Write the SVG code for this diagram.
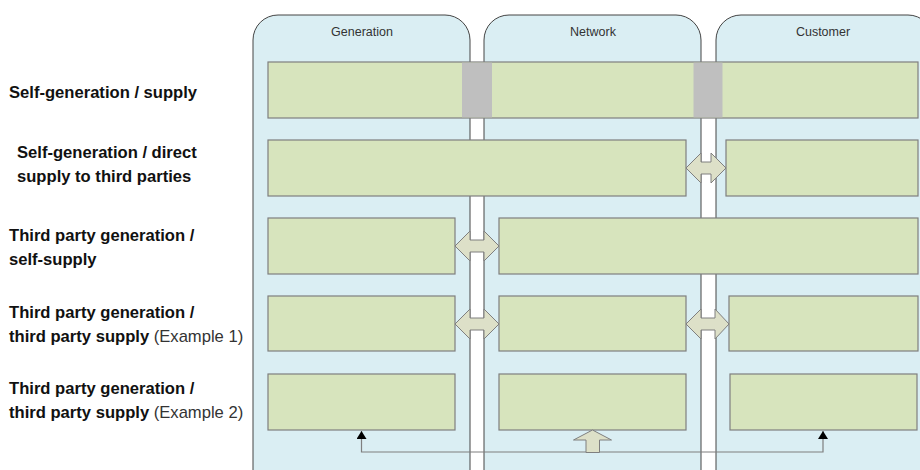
<svg xmlns="http://www.w3.org/2000/svg" width="920" height="470" viewBox="0 0 920 470">
<style>
.panel{fill:#DAEEF3;stroke:#444;stroke-width:1}
.box{fill:#D7E4BD;stroke:#7F7F7F;stroke-width:1.2}
.gray{fill:#BFBFBF}
.arr{fill:#DDE0C8;stroke:#7F7F7F;stroke-width:1}
.hdr{font-family:"Liberation Sans",Arial,sans-serif;font-size:12.5px;fill:#333;text-anchor:middle}
.lbl{font-family:"Liberation Sans",Arial,sans-serif;font-size:16.6px;font-weight:bold;fill:#111}
.reg{font-weight:normal;fill:#333}
.line{fill:none;stroke:#7F7F7F;stroke-width:1.2}
</style>
<defs>
<marker id="tri" markerWidth="8" markerHeight="10" refX="8" refY="5" orient="auto-start-reverse" markerUnits="userSpaceOnUse">
<path d="M0,0 L8,5 L0,10 Z" fill="#000"/>
</marker>
</defs>
<rect width="920" height="470" fill="#fff"/>
<g id="panel-generation"><rect class="panel" x="253" y="15" width="217" height="490" rx="25"/><text class="hdr" x="362" y="36">Generation</text></g>
<g id="panel-network"><rect class="panel" x="484" y="15" width="217" height="490" rx="25"/><text class="hdr" x="593" y="36">Network</text></g>
<g id="panel-customer"><rect class="panel" x="716" y="15" width="217" height="490" rx="25"/><text class="hdr" x="823" y="36">Customer</text></g>

<g id="labels">
<text class="lbl" x="9" y="98">Self-generation / supply</text>
<text class="lbl" x="17" y="158">Self-generation / direct</text>
<text class="lbl" x="17" y="182">supply to third parties</text>
<text class="lbl" x="9" y="241">Third party generation /</text>
<text class="lbl" x="9" y="265">self-supply</text>
<text class="lbl" x="9" y="318">Third party generation /</text>
<text class="lbl" x="9" y="342">third party supply <tspan class="reg">(Example 1)</tspan></text>
<text class="lbl" x="9" y="394">Third party generation /</text>
<text class="lbl" x="9" y="418">third party supply <tspan class="reg">(Example 2)</tspan></text>
</g>

<g id="row1">
<rect class="box" x="268" y="62" width="650" height="56"/>
<rect class="gray" x="462" y="62.6" width="30" height="54.8"/>
<rect class="gray" x="693.5" y="62.6" width="29" height="54.8"/>
</g>
<g id="row2">
<rect class="box" x="268" y="140" width="418" height="56"/>
<rect class="box" x="726" y="140" width="192" height="56"/>
</g>
<g id="row3">
<rect class="box" x="268" y="218" width="187" height="56"/>
<rect class="box" x="499" y="218" width="419" height="56"/>
</g>
<g id="row4">
<rect class="box" x="268" y="296" width="187" height="55"/>
<rect class="box" x="499" y="296" width="187" height="55"/>
<rect class="box" x="729" y="296" width="189" height="55"/>
</g>
<g id="row5">
<rect class="box" x="268" y="374" width="187" height="56"/>
<rect class="box" x="499" y="374" width="187" height="56"/>
<rect class="box" x="730" y="374" width="187" height="56"/>
</g>

<g id="connectors">
<polygon class="arr" points="686,168 701,153 701,162 711,162 711,153 726,168 711,183 711,174 701,174 701,183"/>
<polygon class="arr" points="455,246 470,231 470,240 484,240 484,231 499,246 484,261 484,252 470,252 470,261"/>
<polygon class="arr" points="455,324 470,309 470,318 484,318 484,309 499,324 484,339 484,330 470,330 470,339"/>
<polygon class="arr" points="686,324 701,309 701,318 715,318 715,309 729,324 715,339 715,330 701,330 701,339"/>
<polyline class="line" points="361.5,431 361.5,452 823,452 823,431" marker-start="url(#tri)" marker-end="url(#tri)"/>
<polygon class="arr" points="592.5,430 611.5,440 599.5,440 599.5,452.5 586,452.5 586,440 573.5,440"/>
</g>
</svg>
